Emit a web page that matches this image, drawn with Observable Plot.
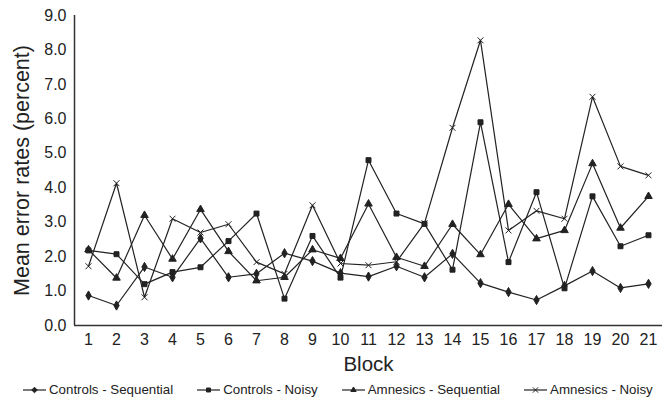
<!DOCTYPE html>
<html><head><meta charset="utf-8">
<script src="https://cdn.jsdelivr.net/npm/d3@7"></script>
<script src="https://cdn.jsdelivr.net/npm/@observablehq/plot@0.6"></script>
<style>
body{margin:0;background:#fff;font-family:"Liberation Sans",Arial,Helvetica,sans-serif;}
#chart svg{display:block;}
#legend{display:flex;align-items:center;height:19px;padding-left:23px;font-size:13.3px;color:#222;white-space:nowrap;}
#legend .item{display:flex;align-items:center;margin-right:24px;}
#legend svg{margin-right:3px;}
</style></head><body>
<div id="chart"></div>
<div id="legend"></div>
<script>
const blocks = [1,2,3,4,5,6,7,8,9,10,11,12,13,14,15,16,17,18,19,20,21];
const seriesNames = ["Controls - Sequential","Controls - Noisy","Amnesics - Sequential","Amnesics - Noisy"];
const seriesSymbols = ["diamond","square","triangle","times"];
const controlsSequential = [0.87,0.58,1.70,1.40,2.53,1.40,1.50,2.10,1.87,1.52,1.42,1.72,1.40,2.08,1.23,0.97,0.74,1.15,1.58,1.09,1.21];
const controlsNoisy      = [2.18,2.07,1.20,1.55,1.69,2.45,3.25,0.78,2.60,1.39,4.80,3.25,2.95,1.62,5.90,1.84,3.87,1.08,3.75,2.30,2.62];
const amnesicsSequential = [2.20,1.38,3.20,1.93,3.37,2.15,1.30,1.40,2.20,1.95,3.53,1.98,1.72,2.94,2.06,3.52,2.52,2.76,4.70,2.83,3.75];
const amnesicsNoisy      = [1.72,4.13,0.82,3.10,2.70,2.94,1.84,1.50,3.49,1.80,1.75,1.85,2.97,5.74,8.28,2.76,3.33,3.10,6.64,4.62,4.36];
const yTicks = [0,1,2,3,4,5,6,7,8,9];

const seriesValues = [controlsSequential, controlsNoisy, amnesicsSequential, amnesicsNoisy];
const data = [];
seriesNames.forEach((s, i) => blocks.forEach((b, j) => data.push({series: s, block: b, value: seriesValues[i][j]})));

const ink = "#222";
const plot = Plot.plot({
  width: 665, height: 380,
  marginLeft: 74, marginRight: 3, marginTop: 15, marginBottom: 55,
  style: {fontFamily: "'Liberation Sans', Arial, sans-serif", color: ink, background: "#fff"},
  x: {domain: [0.5, 21.5]},
  y: {domain: [0, 9]},
  symbol: {domain: seriesNames, range: seriesSymbols},
  marks: [
    Plot.axisX({ticks: blocks, tickFormat: d => String(d), tickSize: 0, tickPadding: 8, fontSize: 16, label: null}),
    Plot.axisY({ticks: yTicks, tickFormat: d => d.toFixed(1), tickSize: 0, tickPadding: 8, fontSize: 16, label: null}),
    Plot.ruleX([0.5], {stroke: "#333", strokeWidth: 1.5}),
    Plot.ruleY([0], {stroke: "#333", strokeWidth: 1.5}),
    Plot.text(["Block"], {frameAnchor: "bottom", lineAnchor: "middle", dy: 39, fontSize: 20.5, fill: ink}),
    Plot.text(["Mean error rates (percent)"], {frameAnchor: "left", textAnchor: "middle", dx: -52, rotate: -90, fontSize: 21.5, fill: ink}),
    Plot.line(data, {x: "block", y: "value", z: "series", stroke: ink, strokeWidth: 1.2}),
    Plot.dot(data, {x: "block", y: "value", symbol: "series", r: 2.8, fill: ink, stroke: ink, strokeWidth: 1})
  ]
});
document.getElementById("chart").appendChild(plot);

// legend
const legend = d3.select("#legend");
const symMap = {diamond: d3.symbolDiamond2, square: d3.symbolSquare2, triangle: d3.symbolTriangle2, times: d3.symbolTimes};
seriesNames.forEach((s, i) => {
  const item = legend.append("div").attr("class", "item");
  const svg = item.append("svg").attr("width", 23).attr("height", 12);
  svg.append("line").attr("x1", 0).attr("x2", 23).attr("y1", 6).attr("y2", 6).attr("stroke", ink).attr("stroke-width", 1.2);
  svg.append("path").attr("transform", "translate(11.5,6)")
    .attr("d", d3.symbol().type(symMap[seriesSymbols[i]]).size(20)())
    .attr("fill", ink).attr("stroke", ink).attr("stroke-width", 1);
  item.append("span").text(s);
});
</script>
</body></html>
